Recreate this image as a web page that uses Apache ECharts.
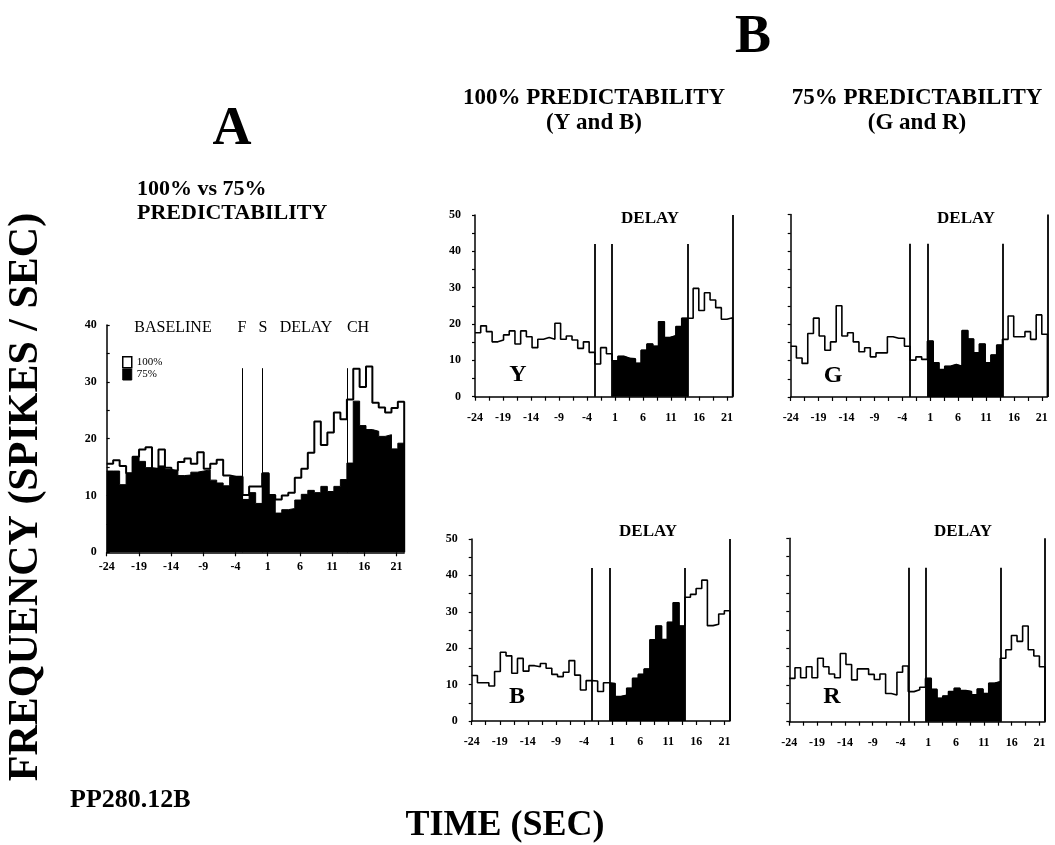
<!DOCTYPE html>
<html><head><meta charset="utf-8">
<script src="https://cdn.jsdelivr.net/npm/echarts@6/dist/echarts.min.js"></script>
<style>html,body{margin:0;padding:0;background:#fff}#c{width:1055px;height:845px}</style>
</head><body><div id="c"></div>
<script>
// ---------- data ----------
const xTickLabels = [-24, -19, -14, -9, -4, 1, 6, 11, 16, 21];
const startTime = -24;
const eventsA = [-2.9, 0.15, 13.3];      // F, S, CH (panel A)
const endTimeA = 22.2;
const eventsB = [-2.6, 0.5, 13.95];      // cue, delay start, choice (panel B)
const endTimeB = 22;
const binCountsA = [21, 3, 13, 9];       // bins per segment: baseline, F-S, delay, after CH
const binCountsB = [21, 3, 13, 8];
const eventLineTopA = 32.4;
const eventLineTopB = 42;

const pred100 = [15.6,16.2,15.2,13.9,16.8,18.1,18.5,14.7,18.1,14.9,14.4,15.9,16.5,15.6,17.6,14.7,15.6,16.3,13.5,13.3,13.3,
  10.1,11.6,11.6,
  13.9,10.1,9.3,10.0,10.5,13.1,14.7,17.5,23.0,18.9,21.1,24.6,23.4,
  26.9,32.3,29.1,32.7,26.3,25.5,24.6,25.4,26.5];
const pred75 = [14.3,14.3,11.9,13.9,16.8,16.0,14.9,14.7,15.2,14.6,14.3,13.5,13.6,14.1,14.3,14.5,12.7,12.2,11.7,13.3,13.3,
  9.3,10.5,8.6,
  13.8,10.1,6.9,7.5,7.7,9.2,10.2,10.9,10.5,11.6,10.7,11.6,12.8,
  15.7,26.6,22.3,21.6,21.3,20.4,20.7,18.2,19.2];
const rateY = [17.6,19.5,17.9,15.1,15.6,17.0,18.1,14.5,18.1,16.5,13.5,15.8,16.3,15.8,20.2,15.8,16.7,15.6,13.3,15.1,12.2,
  9.0,13.5,11.8,
  9.9,11.1,10.6,10.4,9.2,12.8,14.5,13.9,20.6,16.3,16.8,19.3,21.6,
  21.6,29.8,23.7,28.6,26.6,24.5,21.3,21.7];
const rateG = [13.9,10.7,9.2,17.4,21.6,16.7,12.8,15.1,25.0,16.7,17.6,15.1,12.4,13.5,11.0,12.1,12.1,16.5,16.1,16.1,13.9,
  10.1,11.0,10.3,
  15.3,9.4,7.5,8.4,8.9,8.4,18.2,15.9,12.1,14.5,9.4,11.5,14.2,
  15.8,22.2,16.5,16.5,17.9,15.8,22.5,17.2];
const rateB = [12.5,10.5,10.5,9.6,13.6,18.9,17.9,13.1,17.2,13.7,15.2,14.9,15.8,14.5,12.8,12.2,13.4,16.6,12.6,8.5,11.1,
  11.0,8.1,10.5,
  10.3,6.7,7.1,9.0,11.7,12.8,14.3,22.3,26.1,22.4,27.1,32.5,26.1,
  34.0,34.8,36.4,38.7,26.2,26.6,29.4,30.3];
const rateR = [11.8,14.7,12.0,15.0,12.0,17.3,15.0,13.0,12.0,18.6,15.6,11.4,14.4,14.4,12.9,11.5,13.0,7.7,7.3,13.5,15.2,
  8.2,8.7,9.4,
  11.8,8.8,6.4,7.0,8.2,9.1,8.5,8.2,7.3,8.9,7.7,10.5,10.9,
  17.3,19.6,23.5,21.9,26.1,19.6,17.9,15.0];

// ---------- helpers ----------
const toAxis = t => t - startTime;
function binEdges(events, end, counts) {
  const bounds = [startTime, ...events, end];
  const edges = [];
  counts.forEach((n, s) => {
    for (let j = 0; j < n; j++) edges.push(bounds[s] + (bounds[s + 1] - bounds[s]) * j / n);
  });
  edges.push(end);
  return edges;
}
function stepData(vals, edges, from, to) {
  from = from || 0; to = to || vals.length;
  const d = [];
  for (let i = from; i < to; i++) d.push([toAxis(edges[i]), vals[i]]);
  d.push([toAxis(edges[to]), vals[to - 1]]);
  d.push([toAxis(edges[to]), 0]);
  return d;
}
const edgesA = binEdges(eventsA, endTimeA, binCountsA);
const edgesB = binEdges(eventsB, endTimeB, binCountsB);
const delayFrom = binCountsB[0] + binCountsB[1];
const delayTo = delayFrom + binCountsB[2];

const SERIF = '"Liberation Serif", "DejaVu Serif", serif';
const tickFont = {fontFamily: SERIF, fontWeight: 'bold', fontSize: 12, color: '#000'};

function xAxisCfg(gi, end, tickStep, margin) {
  const ticks = [];
  for (let v = 0; v <= toAxis(xTickLabels[xTickLabels.length - 1]) + 1e-6; v += tickStep) ticks.push(v);
  return {
    type: 'value', gridIndex: gi, min: 0, max: toAxis(end),
    axisLine: {show: true, onZero: false, lineStyle: {color: '#000', width: 1.5}},
    axisTick: {show: true, length: 4, lineStyle: {color: '#000', width: 1.2}, customValues: ticks},
    axisLabel: Object.assign({customValues: xTickLabels.map(toAxis), margin: margin,
      formatter: v => String(Math.round(v + startTime))}, tickFont),
    splitLine: {show: false}
  };
}
function yAxisCfg(gi, max, showLabels, inside, margin) {
  return {
    type: 'value', gridIndex: gi, min: 0, max: max, interval: 5,
    axisLine: {show: true, onZero: false, lineStyle: {color: '#000', width: 1.5}},
    axisTick: {show: true, inside: inside, length: 3, lineStyle: {color: '#000', width: 1.2}},
    axisLabel: Object.assign({show: showLabels, margin: margin,
      formatter: v => (v % 10 === 0 ? String(v) : '')}, tickFont),
    splitLine: {show: false}
  };
}
function eventLines(events, top, end, withBoundary, width) {
  const d = events.map(e => [{coord: [toAxis(e), 0]}, {coord: [toAxis(e), top]}]);
  if (withBoundary) d.push([{coord: [toAxis(end), 0]}, {coord: [toAxis(end), 50]}]);
  return {silent: true, symbol: ['none', 'none'], label: {show: false}, animation: false,
    lineStyle: {color: '#000', width: width, type: 'solid'}, emphasis: {disabled: true}, data: d};
}
function panelSeries(idx, vals) {
  return [
    {type: 'line', xAxisIndex: idx, yAxisIndex: idx, step: 'end', symbol: 'none', showSymbol: false,
      data: stepData(vals, edgesB), lineStyle: {color: '#000', width: 1.6}, z: 3,
      markLine: eventLines(eventsB, eventLineTopB, endTimeB, true, 1.8)},
    {type: 'line', xAxisIndex: idx, yAxisIndex: idx, step: 'end', symbol: 'none', showSymbol: false,
      data: stepData(vals, edgesB, delayFrom, delayTo), lineStyle: {color: '#000', width: 1},
      areaStyle: {color: '#000', opacity: 1}, z: 2}
  ];
}

const grids = [
  {left: 106.7, top: 325, width: 297.5, height: 227.3},
  {left: 475, top: 215, width: 257.6, height: 181.7},
  {left: 790.7, top: 214.5, width: 256.7, height: 182.5},
  {left: 471.7, top: 539, width: 258.3, height: 182},
  {left: 789.3, top: 538.3, width: 255.7, height: 183.4}
];

function txt(text, x, y, font, align, extra) {
  return Object.assign({type: 'text', x: x, y: y, silent: true,
    style: {text: text, fill: '#000', font: font, textAlign: align || 'center', textVerticalAlign: 'middle'}}, extra || {});
}
const bold = s => 'bold ' + s + 'px ' + SERIF;
const reg = s => s + 'px ' + SERIF;

const chart = echarts.init(document.getElementById('c'), null, {renderer: 'canvas'});
chart.setOption({
  animation: false,
  backgroundColor: '#fff',
  grid: grids,
  xAxis: [
    xAxisCfg(0, endTimeA, 5, 9),
    xAxisCfg(1, endTimeB, 2.5, 15),
    xAxisCfg(2, endTimeB, 2.5, 15),
    xAxisCfg(3, endTimeB, 2.5, 15),
    xAxisCfg(4, endTimeB, 2.5, 15)
  ],
  yAxis: [
    yAxisCfg(0, 40, true, true, 10),
    yAxisCfg(1, 50, true, false, 14),
    yAxisCfg(2, 50, false, false, 14),
    yAxisCfg(3, 50, true, false, 14),
    yAxisCfg(4, 50, false, false, 14)
  ],
  legend: {
    left: 122, top: 356, orient: 'vertical', itemGap: 0, itemWidth: 9, itemHeight: 11, padding: 0,
    selectedMode: false,
    textStyle: {fontFamily: SERIF, fontSize: 11, color: '#000'},
    data: [
      {name: '100%', icon: 'rect', itemStyle: {color: '#fff', borderColor: '#000', borderWidth: 1.5}},
      {name: '75%', icon: 'rect', itemStyle: {color: '#000', borderColor: '#000', borderWidth: 1}}
    ]
  },
  series: [
    {name: '100%', type: 'line', xAxisIndex: 0, yAxisIndex: 0, step: 'end', symbol: 'none', showSymbol: false,
      data: stepData(pred100, edgesA), lineStyle: {color: '#000', width: 2}, itemStyle: {color: '#fff'}, z: 2,
      markLine: eventLines(eventsA, eventLineTopA, endTimeA, false, 1)},
    {name: '75%', type: 'line', xAxisIndex: 0, yAxisIndex: 0, step: 'end', symbol: 'none', showSymbol: false,
      data: stepData(pred75, edgesA), lineStyle: {color: '#000', width: 1}, itemStyle: {color: '#000'},
      areaStyle: {color: '#000', opacity: 1}, z: 3}
  ].concat(panelSeries(1, rateY), panelSeries(2, rateG), panelSeries(3, rateB), panelSeries(4, rateR)),
  graphic: [
    txt('A', 232, 130, bold(54)),
    txt('B', 753, 38, bold(54)),
    txt('100% vs 75%', 137, 189, bold(22), 'left'),
    txt('PREDICTABILITY', 137, 213, bold(22), 'left'),
    txt('100% PREDICTABILITY', 594, 98, bold(23)),
    txt('(Y and B)', 594, 123, bold(23)),
    txt('75% PREDICTABILITY', 917, 98, bold(23)),
    txt('(G and R)', 917, 123, bold(23)),
    txt('FREQUENCY (SPIKES / SEC)', 26, 497, bold(42), 'center', {rotation: Math.PI / 2}),
    txt('TIME (SEC)', 505, 826, bold(36)),
    txt('PP280.12B', 70, 800, bold(26), 'left'),
    txt('BASELINE', 173, 328, reg(16)),
    txt('F', 242, 328, reg(16)),
    txt('S', 263, 328, reg(16)),
    txt('DELAY', 306, 328, reg(16)),
    txt('CH', 358, 328, reg(16)),
    txt('DELAY', 650, 219, bold(17)),
    txt('DELAY', 966, 219, bold(17)),
    txt('DELAY', 648, 532, bold(17)),
    txt('DELAY', 963, 532, bold(17)),
    txt('Y', 518, 375, bold(24)),
    txt('G', 833, 376, bold(24)),
    txt('B', 517, 697, bold(24)),
    txt('R', 832, 697, bold(24))
  ]
});
</script>
</body></html>
